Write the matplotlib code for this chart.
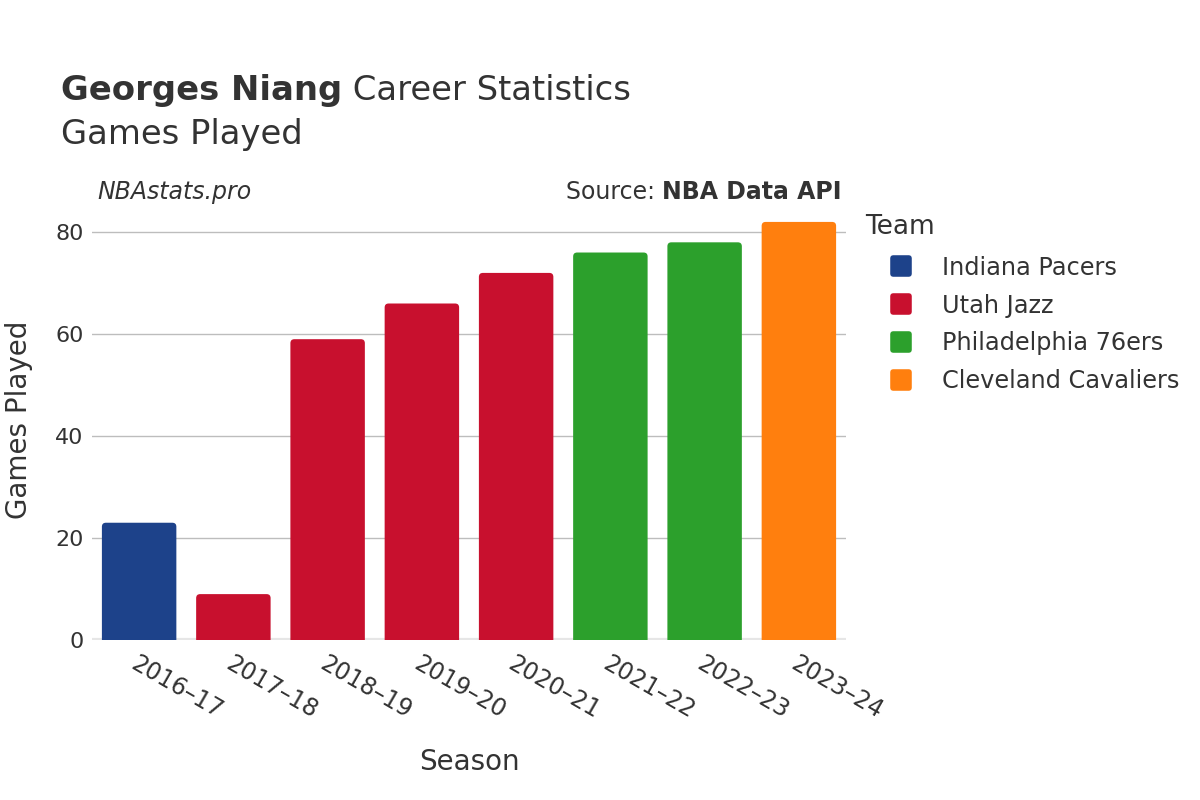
import matplotlib.pyplot as plt
from matplotlib.lines import Line2D
from matplotlib.markers import MarkerStyle
from matplotlib.patches import PathPatch
from matplotlib.path import Path

seasons = ["2016–17", "2017–18", "2018–19", "2019–20", "2020–21", "2021–22", "2022–23", "2023–24"]
games = [23, 9, 59, 66, 72, 76, 78, 82]
teams = ["Indiana Pacers", "Utah Jazz", "Utah Jazz", "Utah Jazz", "Utah Jazz",
         "Philadelphia 76ers", "Philadelphia 76ers", "Cleveland Cavaliers"]
team_order = ["Indiana Pacers", "Utah Jazz", "Philadelphia 76ers", "Cleveland Cavaliers"]
team_colors = {"Indiana Pacers": "#1d428a", "Utah Jazz": "#c8102e",
               "Philadelphia 76ers": "#2ca02c", "Cleveland Cavaliers": "#ff7f0e"}

txt = "#333333"
plt.rcParams['font.family'] = ['DejaVu Sans']

fig = plt.figure(figsize=(12, 8), dpi=100)
ax = fig.add_axes([92/1200, 0.2, 754/1200, 0.55])

ymax = 86.3
x = list(range(len(seasons)))
bars = ax.bar(x, games, width=0.79, color=[team_colors[t] for t in teams], zorder=3)

# rounded top corners (~4px radius)
rx, ry = 4 / 94.25, 4 * ymax / 440
for b in bars:
    x0, w, h = b.get_x(), b.get_width(), b.get_height()
    x1 = x0 + w
    verts = [(x0, 0), (x0, h - ry), (x0, h), (x0 + rx, h), (x1 - rx, h),
             (x1, h), (x1, h - ry), (x1, 0), (x0, 0)]
    codes = [Path.MOVETO, Path.LINETO, Path.CURVE3, Path.CURVE3, Path.LINETO,
             Path.CURVE3, Path.CURVE3, Path.LINETO, Path.CLOSEPOLY]
    ax.add_patch(PathPatch(Path(verts, codes), fc=b.get_facecolor(), ec='none', zorder=3))
    b.set_visible(False)

ax.axhline(0, color="#e6e6e6", lw=3, zorder=2)

ax.set_xlim(-0.5, len(seasons) - 0.5)
ax.set_ylim(0, ymax)
ax.set_yticks([0, 20, 40, 60, 80])
ax.grid(axis='y', color="#bdbdbd", lw=1, zorder=0)
ax.set_axisbelow(True)
for s in ax.spines.values():
    s.set_visible(False)

ax.set_xticks(x)
ax.set_xticklabels(seasons, rotation=-30, ha='left', rotation_mode='anchor')
ax.tick_params(axis='x', length=0, pad=8, labelsize=17, labelcolor=txt)
ax.tick_params(axis='y', length=0, pad=6, labelsize=16, labelcolor=txt)

ax.set_xlabel("Season", fontsize=20, color=txt, labelpad=18)
ax.set_ylabel("Games Played", fontsize=20, color=txt, labelpad=16)

# title
t1 = fig.text(61/1200, 1 - 100/800, "Georges Niang", fontsize=24.4, fontweight='bold', color=txt, va='baseline')
ax.annotate(" Career Statistics", xy=(1, 0), xycoords=t1, fontsize=24.4, color=txt, va='bottom')
fig.text(61/1200, 1 - 144/800, "Games Played", fontsize=24.4, color=txt, va='baseline')

fig.text(97/1200, 1 - 199/800, "NBAstats.pro", fontsize=17, style='italic', color=txt, va='baseline')
s1 = fig.text(842/1200, 1 - 199/800, "NBA Data API", fontsize=17, fontweight='bold', color=txt, va='baseline', ha='right')
ax.annotate("Source: ", xy=(0, 0), xycoords=s1, fontsize=17, color=txt, va='bottom', ha='right')

fig.text(865/1200, 1 - 227/800, "Team", fontsize=19, color=txt, va='center')
handles = [Line2D([], [], marker=MarkerStyle('s', joinstyle='round'), ls='', markersize=12,
                  markeredgewidth=4, color=team_colors[t]) for t in team_order]
leg = fig.legend(handles, team_order, loc='upper left',
                 bbox_to_anchor=(865/1200, 1 - 234/800), frameon=False,
                 fontsize=17.3, labelspacing=0.58,
                 handlelength=1.2, handletextpad=1.1)
for t in leg.get_texts():
    t.set_color(txt)

fig.savefig("out.png", dpi=100)
